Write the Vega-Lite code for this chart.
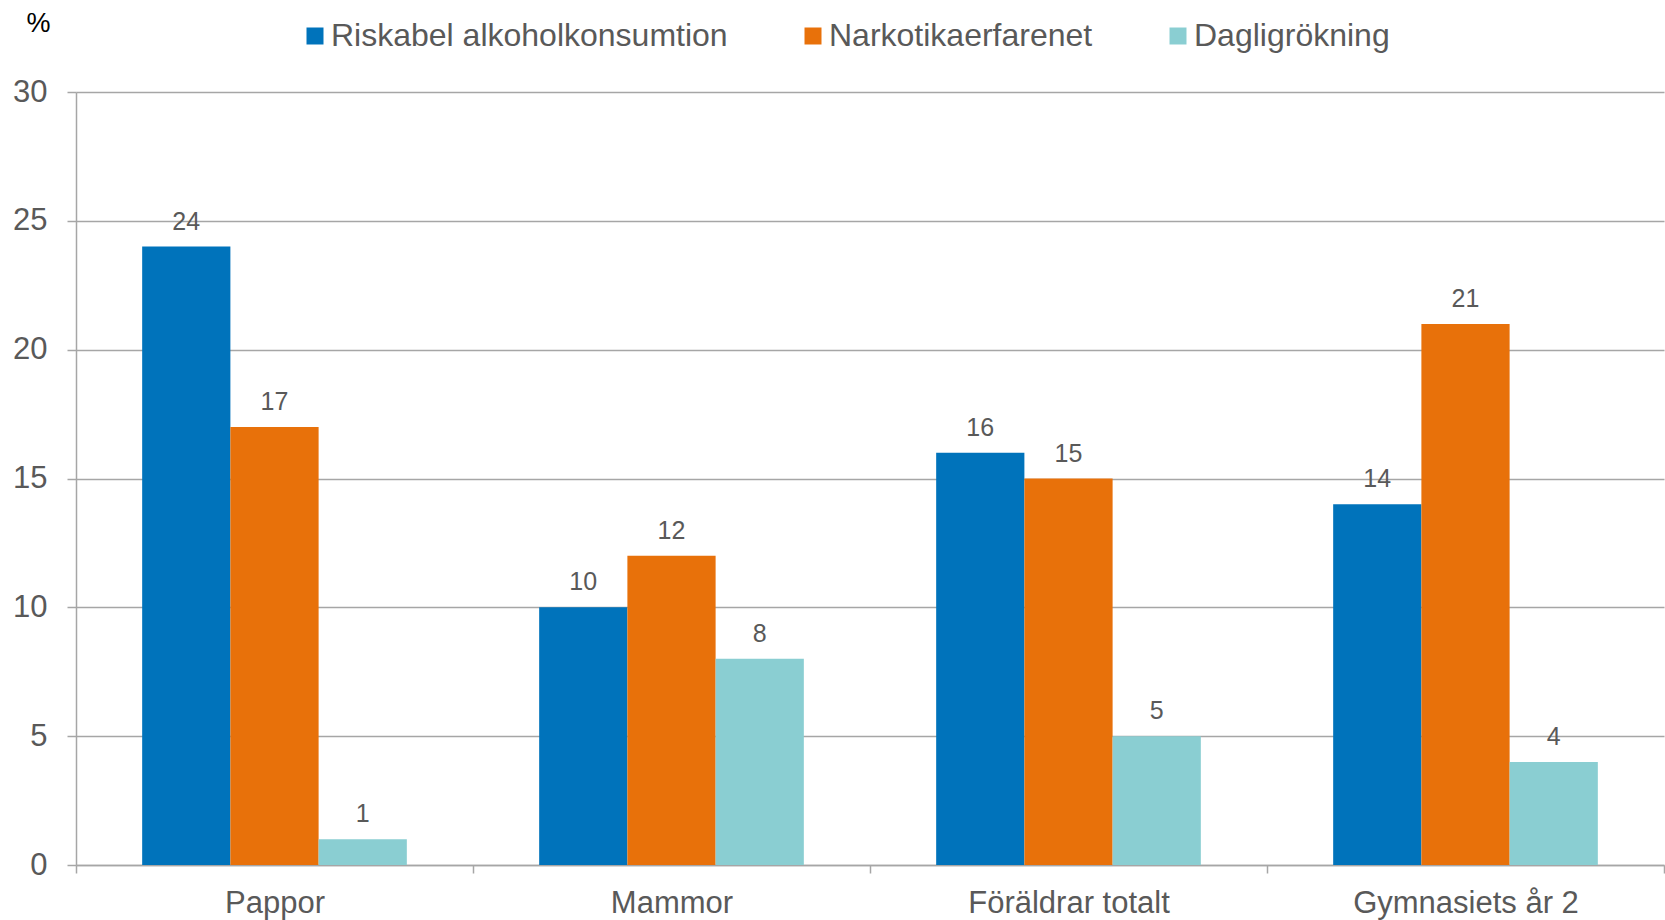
{
  "$schema": "https://vega.github.io/schema/vega-lite/v6.json",
  "width": 1588,
  "height": 773,
  "autosize": {"type": "none"},
  "padding": {"left": 76, "top": 92, "right": 1, "bottom": 55},
  "background": "white",
  "config": {
    "view": {"stroke": null},
    "font": "Liberation Sans",
    "text": {"font": "Liberation Sans"}
  },
  "data": {
    "values": [
      {"grupp": "Pappor", "serie": "Riskabel alkoholkonsumtion", "varde": 24},
      {"grupp": "Pappor", "serie": "Narkotikaerfarenet", "varde": 17},
      {"grupp": "Pappor", "serie": "Dagligrökning", "varde": 1},
      {"grupp": "Mammor", "serie": "Riskabel alkoholkonsumtion", "varde": 10},
      {"grupp": "Mammor", "serie": "Narkotikaerfarenet", "varde": 12},
      {"grupp": "Mammor", "serie": "Dagligrökning", "varde": 8},
      {"grupp": "Föräldrar totalt", "serie": "Riskabel alkoholkonsumtion", "varde": 16},
      {"grupp": "Föräldrar totalt", "serie": "Narkotikaerfarenet", "varde": 15},
      {"grupp": "Föräldrar totalt", "serie": "Dagligrökning", "varde": 5},
      {"grupp": "Gymnasiets år 2", "serie": "Riskabel alkoholkonsumtion", "varde": 14},
      {"grupp": "Gymnasiets år 2", "serie": "Narkotikaerfarenet", "varde": 21},
      {"grupp": "Gymnasiets år 2", "serie": "Dagligrökning", "varde": 4}
    ]
  },
  "encoding": {
    "x": {
      "field": "grupp",
      "type": "nominal",
      "sort": ["Pappor", "Mammor", "Föräldrar totalt", "Gymnasiets år 2"],
      "scale": {"paddingInner": 0, "paddingOuter": 0},
      "axis": {
        "title": null,
        "labelAngle": 0,
        "labelFontSize": 31,
        "labelColor": "#595959",
        "labelBaseline": "middle",
        "labelPadding": 30,
        "labelLimit": 600,
        "tickBand": "extent",
        "tickSize": 8,
        "tickColor": "#a6a6a6",
        "tickWidth": 1.5,
        "domainColor": "#a6a6a6",
        "domainWidth": 1.5,
        "grid": false
      }
    },
    "xOffset": {
      "field": "serie",
      "type": "nominal",
      "sort": ["Riskabel alkoholkonsumtion", "Narkotikaerfarenet", "Dagligrökning"],
      "scale": {"paddingInner": 0, "paddingOuter": 0.75}
    },
    "y": {
      "field": "varde",
      "type": "quantitative",
      "scale": {"domain": [0, 30], "nice": false},
      "axis": {
        "title": "%",
        "titleAngle": 0,
        "titleX": -38,
        "titleY": -69,
        "titleAlign": "center",
        "titleBaseline": "middle",
        "titleFontSize": 27,
        "titleFontWeight": "normal",
        "titleColor": "#000000",
        "values": [0, 5, 10, 15, 20, 25, 30],
        "labelFontSize": 31,
        "labelColor": "#595959",
        "labelPadding": 20,
        "tickSize": 9,
        "tickColor": "#a6a6a6",
        "tickWidth": 1.5,
        "domainColor": "#a6a6a6",
        "domainWidth": 1.5,
        "gridColor": "#a6a6a6",
        "gridWidth": 1.5
      }
    }
  },
  "layer": [
    {
      "mark": {"type": "bar"},
      "encoding": {
        "color": {
          "field": "serie",
          "type": "nominal",
          "sort": ["Riskabel alkoholkonsumtion", "Narkotikaerfarenet", "Dagligrökning"],
          "scale": {
            "domain": ["Riskabel alkoholkonsumtion", "Narkotikaerfarenet", "Dagligrökning"],
            "range": ["#0073BB", "#E8710A", "#8ACED2"]
          },
          "legend": {
            "title": null,
            "orient": "none",
            "direction": "horizontal",
            "legendX": 223,
            "legendY": -72,
            "symbolType": "square",
            "symbolSize": 289,
            "symbolStrokeWidth": 0,
            "labelFontSize": 32,
            "labelColor": "#595959",
            "labelOffset": 0,
            "columnPadding": 69,
            "labelLimit": 600
          }
        }
      }
    },
    {
      "mark": {"type": "text", "baseline": "middle", "dy": -25, "fontSize": 25, "color": "#595959"},
      "encoding": {
        "text": {"field": "varde", "type": "quantitative"}
      }
    }
  ]
}
